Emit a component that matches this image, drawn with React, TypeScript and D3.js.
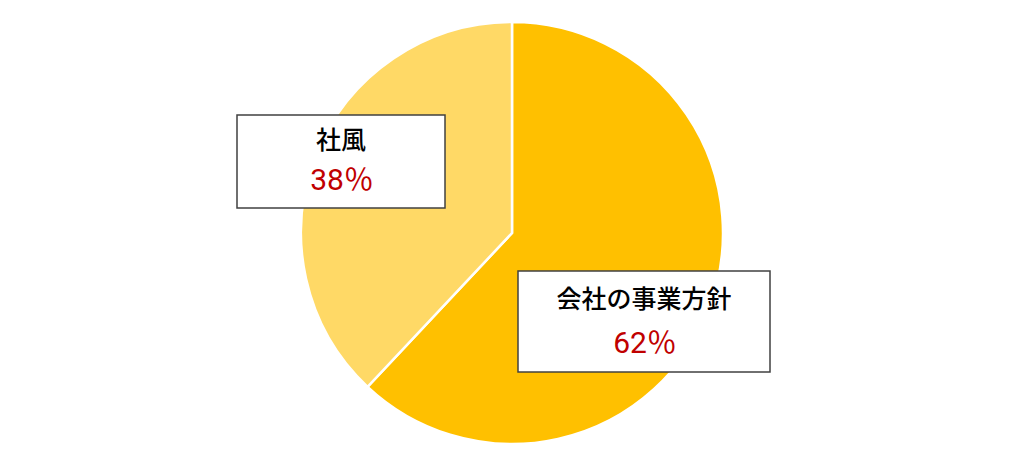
import React from "react";
import * as d3 from "d3";

const categories = ["会社の事業方針", "社風"];
const values = [62, 38];
const colors = ["#FFC000", "#FFD966"];
const labelBoxes = [
  { x: 518, y: 271, w: 252, h: 101 },
  { x: 237, y: 115, w: 208, h: 93 },
];

export default function App() {
  const width = 1024;
  const height = 465;
  const cx = 512;
  const cy = 233;
  const r = 211;
  const pie = d3.pie<number>().sort(null).value((d) => d)(values);
  const arc = d3.arc<d3.PieArcDatum<number>>().innerRadius(0).outerRadius(r);
  const font = "'Noto Sans CJK JP', 'Noto Sans', sans-serif";
  return (
    <svg
      width={width}
      height={height}
      style={{ position: "absolute", left: 0, top: 0, background: "#fff" }}
    >
      <g transform={`translate(${cx},${cy})`}>
        {pie.map((p, i) => (
          <path key={i} d={arc(p) || ""} fill={colors[i]} stroke="#fff" strokeWidth={2.5} />
        ))}
      </g>
      {labelBoxes.map((b, i) => (
        <g key={i}>
          <rect x={b.x} y={b.y} width={b.w} height={b.h} fill="#fff" stroke="#404040" strokeWidth={1.5} />
          <text
            x={b.x + b.w / 2}
            y={b.y + b.h * 0.37}
            textAnchor="middle"
            fontFamily={font}
            fontSize={25}
            fontWeight={500}
            fill="#000"
          >
            {categories[i]}
          </text>
          <text
            x={b.x + b.w / 2 + 1}
            y={b.y + b.h * 0.81}
            textAnchor="middle"
            fontFamily="Roboto, 'Noto Sans CJK JP', sans-serif"
            fontSize={30}
            fontWeight={400}
            fill="#C00000"
          >
            {values[i]}
            <tspan fontFamily={font} fontWeight={400}>％</tspan>
          </text>
        </g>
      ))}
    </svg>
  );
}
